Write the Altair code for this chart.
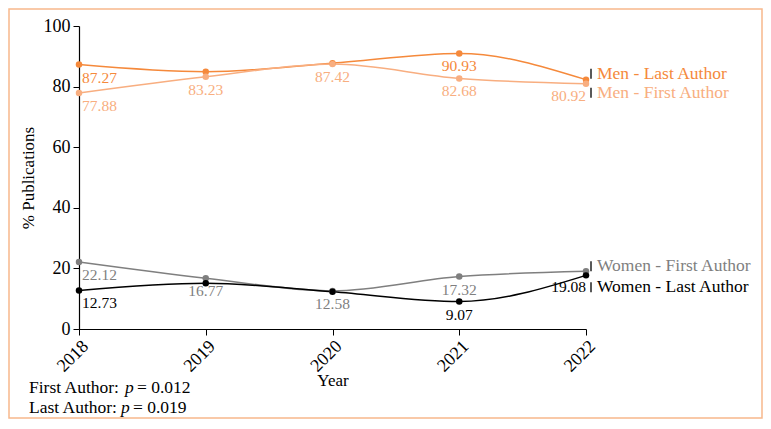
import altair as alt
import pandas as pd

# ---- data ----
years = [2018, 2019, 2020, 2021, 2022]
men_last = [87.27, 84.9, 87.7, 90.93, 82.3]
men_first = [77.88, 83.23, 87.42, 82.68, 80.92]
women_first = [22.12, 16.77, 12.58, 17.32, 19.08]
women_last = [12.73, 15.1, 12.3, 9.07, 17.7]

series_names = ["Men - Last Author", "Men - First Author",
                "Women - First Author", "Women - Last Author"]
series_colors = ["#F5893B", "#F8AE80", "#7F7F7F", "#000000"]
series_widths = [1.5, 1.5, 2.6, 1.2]

# value labels shown next to points (series, year, text)
label_series = ["Men - Last Author", "Men - Last Author",
                "Men - First Author", "Men - First Author", "Men - First Author",
                "Men - First Author", "Men - First Author",
                "Women - First Author", "Women - First Author",
                "Women - First Author", "Women - First Author",
                "Women - Last Author", "Women - Last Author", "Women - Last Author"]
label_years = [2018, 2021,
               2018, 2019, 2020, 2021, 2022,
               2018, 2019, 2020, 2021,
               2018, 2021, 2022]
label_texts = ["87.27", "90.93",
               "77.88", "83.23", "87.42", "82.68", "80.92",
               "22.12", "16.77", "12.58", "17.32",
               "12.73", "9.07", "19.08"]

FONT = "Liberation Serif"

values_by_series = dict(zip(series_names, [men_last, men_first, women_first, women_last]))
rows = []
for s, vals in values_by_series.items():
    for y, v in zip(years, vals):
        rows.append({"Year": y, "value": v, "series": s})
df = pd.DataFrame(rows)

lab_rows = []
for s, y, t in zip(label_series, label_years, label_texts):
    lab_rows.append({"Year": y, "series": s, "text": t,
                     "value": values_by_series[s][years.index(y)]})
df_lab = pd.DataFrame(lab_rows)

end_rows = [{"Year": years[-1], "series": s, "value": values_by_series[s][-1]}
            for s in series_names]
df_end = pd.DataFrame(end_rows)

x_enc = alt.X("Year:Q",
              scale=alt.Scale(domain=[2018, 2022], nice=False, zero=False),
              axis=alt.Axis(values=years, format="d", labelAngle=-45,
                            title="Year", titleY=43, tickSize=6,
                            labelPadding=2))
y_enc = alt.Y("value:Q",
              scale=alt.Scale(domain=[0, 100], nice=False),
              axis=alt.Axis(values=[0, 20, 40, 60, 80, 100],
                            title="% Publications", tickSize=6, labelPadding=3,
                            titleX=-51, titleBaseline="middle"))
color_enc = alt.Color("series:N",
                      scale=alt.Scale(domain=series_names, range=series_colors),
                      legend=None)

base = alt.Chart(df)
lines = base.mark_line(interpolate="monotone").encode(
    x=x_enc, y=y_enc, color=color_enc,
    strokeWidth=alt.StrokeWidth("series:N",
                                scale=alt.Scale(domain=series_names, range=series_widths),
                                legend=None),
)
points = base.mark_circle(size=42, opacity=1).encode(x="Year:Q", y="value:Q", color=color_enc)

LFS = 15.5
lab_base = alt.Chart(df_lab).encode(x="Year:Q", y="value:Q", text="text:N", color=color_enc)
lab_first = lab_base.mark_text(align="left", baseline="middle", dx=3, dy=13,
                               font=FONT, fontSize=LFS).transform_filter(alt.datum.Year == 2018)
lab_mid = lab_base.mark_text(align="center", baseline="middle", dy=13,
                             font=FONT, fontSize=LFS).transform_filter(
    (alt.datum.Year > 2018) & (alt.datum.Year < 2022))
lab_last = lab_base.mark_text(align="right", baseline="middle", dx=0, dy=12,
                              font=FONT, fontSize=LFS).transform_filter(alt.datum.Year == 2022)

end_base = alt.Chart(df_end).encode(x="Year:Q", y="value:Q")
end_offsets = {"Men - Last Author": -6, "Men - First Author": 9,
               "Women - First Author": -5, "Women - Last Author": 12}
end_layers = []
for s in series_names:
    dy = end_offsets[s]
    end_layers.append(
        end_base.mark_text(align="left", baseline="middle", dx=11, dy=dy,
                           font=FONT, fontSize=17.5)
        .encode(text="series:N", color=color_enc)
        .transform_filter(alt.datum.series == s))
    end_layers.append(
        end_base.mark_tick(orient="vertical", size=10, thickness=1.5, color="#222222",
                           opacity=1)
        .encode(xOffset=alt.value(5), yOffset=alt.value(dy))
        .transform_filter(alt.datum.series == s))

one = alt.Chart(pd.DataFrame({"a": [0]}))
border = one.mark_rect(fill=None, stroke="#F8B88C", strokeWidth=1.5).encode(
    x=alt.value(-70), x2=alt.value(683), y=alt.value(-17), y2=alt.value(392))

def txt(s, x, y, italic=False):
    return one.mark_text(text=s, align="left", baseline="alphabetic", font=FONT,
                         fontSize=17.5, fontStyle="italic" if italic else "normal",
                         color="black").encode(x=alt.value(x), y=alt.value(y))

notes = [
    txt("First Author:", -50, 367), txt("p", 46, 367, True), txt("= 0.012", 58, 367),
    txt("Last Author:", -50, 387), txt("p", 42, 387, True), txt("= 0.019", 54, 387),
]

chart = alt.layer(lines, points, lab_first, lab_mid, lab_last, *end_layers,
                  border, *notes).properties(
    width=507, height=303,
    autosize=alt.AutoSizeParams(type="none"),
    padding={"left": 71, "top": 18, "right": 177, "bottom": 90},
).configure_view(stroke=None).configure_axis(
    grid=False, labelFont=FONT, titleFont=FONT, labelFontSize=18, titleFontSize=17,
    labelColor="black", titleColor="black", domainColor="black", tickColor="black",
    titleFontWeight="normal", domainWidth=1.2,
)

chart.save("out.html", embed_options={"renderer": "svg", "actions": False})
